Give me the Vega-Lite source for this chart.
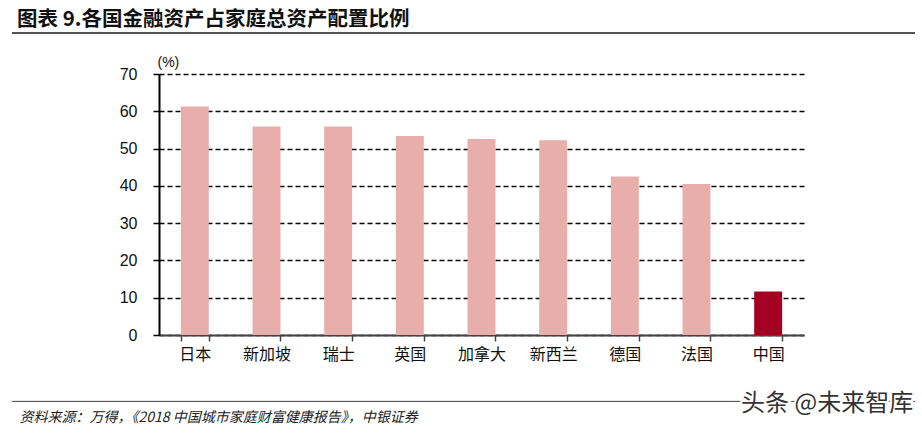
{
  "$schema": "https://vega.github.io/schema/vega-lite/v6.json",
  "width": 903,
  "height": 261,
  "autosize": "none",
  "padding": {"left": 12, "top": 74, "right": 7, "bottom": 99},
  "background": "white",
  "title": {
    "text": "图表 9.各国金融资产占家庭总资产配置比例",
    "anchor": "start",
    "frame": "group",
    "dx": 5,
    "dy": 19,
    "offset": 20,
    "font": "Noto Sans CJK SC",
    "fontSize": 20.5,
    "fontWeight": "bold",
    "color": "#111"
  },
  "config": {"view": {"stroke": null}},
  "resolve": {"axis": {"x": "independent", "y": "independent"}},
  "layer": [
    {
      "data": {"values": [
        {"country": "日本", "value": 61.3, "group": "其他"},
        {"country": "新加坡", "value": 55.9, "group": "其他"},
        {"country": "瑞士", "value": 55.9, "group": "其他"},
        {"country": "英国", "value": 53.4, "group": "其他"},
        {"country": "加拿大", "value": 52.6, "group": "其他"},
        {"country": "新西兰", "value": 52.2, "group": "其他"},
        {"country": "德国", "value": 42.5, "group": "其他"},
        {"country": "法国", "value": 40.5, "group": "其他"},
        {"country": "中国", "value": 11.7, "group": "中国"}
      ]},
      "mark": {"type": "bar"},
      "encoding": {
        "x": {
          "field": "country",
          "type": "nominal",
          "sort": null,
          "scale": {"range": [147, 792], "paddingInner": 0.61, "paddingOuter": 0.305},
          "axis": {
            "tickBand": "extent",
            "labelAngle": 0,
            "domainColor": "#444",
            "domainWidth": 2,
            "tickColor": "#444",
            "tickSize": 6,
            "tickWidth": 1.5,
            "labelFont": "Noto Sans CJK SC",
            "labelFontSize": 16,
            "labelColor": "#111",
            "labelPadding": 5,
            "title": "资料来源：万得，《2018 中国城市家庭财富健康报告》，中银证券",
            "titleX": 7,
            "titleY": 86,
            "titleAlign": "left",
            "titleAnchor": "start",
            "titleBaseline": "alphabetic",
            "titleFont": "Noto Sans CJK SC",
            "titleFontStyle": "italic",
            "titleFontSize": 14,
            "titleFontWeight": "normal",
            "titleColor": "#222"
          }
        },
        "y": {
          "field": "value",
          "type": "quantitative",
          "scale": {"domain": [0, 70], "nice": false},
          "axis": {
            "values": [0, 10, 20, 30, 40, 50, 60, 70],
            "offset": -147,
            "grid": true,
            "gridDash": [5, 3],
            "gridColor": "#000",
            "gridWidth": 1.4,
            "domainColor": "#000",
            "domainWidth": 2,
            "tickColor": "#000",
            "tickSize": 6,
            "tickWidth": 1.5,
            "labelFont": "Liberation Sans",
            "labelFontSize": 16,
            "labelColor": "#111",
            "labelPadding": 16,
            "labelOverlap": false,
            "title": "(%)",
            "titleAngle": 0,
            "titleX": -2,
            "titleY": -8,
            "titleAlign": "left",
            "titleBaseline": "alphabetic",
            "titleFont": "Liberation Sans",
            "titleFontSize": 14,
            "titleFontWeight": "normal",
            "titleColor": "#111"
          }
        },
        "color": {
          "field": "group",
          "type": "nominal",
          "scale": {"domain": ["其他", "中国"], "range": ["#E8AEAC", "#A50021"]},
          "legend": null
        }
      }
    },
    {
      "data": {"values": [{}]},
      "mark": {"type": "rule", "color": "#555", "strokeWidth": 2},
      "encoding": {"y": {"datum": 81, "axis": null}}
    },
    {
      "data": {"values": [{}]},
      "mark": {"type": "rule", "color": "#444", "strokeWidth": 1},
      "encoding": {"y": {"datum": -17.8, "axis": null}}
    },
    {
      "data": {"values": [{}]},
      "mark": {"type": "text", "text": "头条 @未来智库", "align": "right", "baseline": "middle", "dx": 145, "font": "Noto Sans CJK SC", "fontSize": 24, "fill": "white", "stroke": "white", "strokeWidth": 4},
      "encoding": {"x": {"datum": "中国", "axis": null}, "y": {"datum": -18.6, "axis": null}}
    },
    {
      "data": {"values": [{}]},
      "mark": {"type": "text", "text": "头条 @未来智库", "align": "right", "baseline": "middle", "dx": 145, "font": "Noto Sans CJK SC", "fontSize": 24, "color": "#333"},
      "encoding": {"x": {"datum": "中国", "axis": null}, "y": {"datum": -18.6, "axis": null}}
    }
  ]
}
